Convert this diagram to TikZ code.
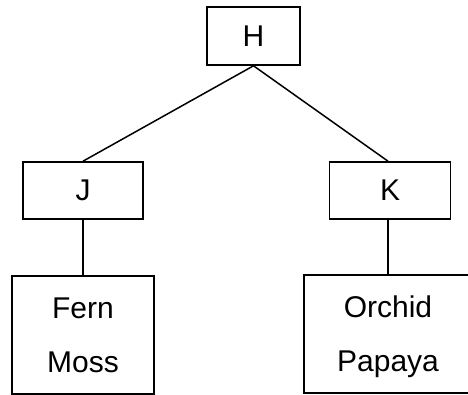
\documentclass[tikz,border=0pt]{standalone}
\usepackage{fontspec}
\setmainfont{Liberation Sans}
\begin{document}
\begin{tikzpicture}[x=1pt,y=-1pt,
  box/.style={draw, line width=1.6pt, inner sep=0pt, align=center,
    font=\fontsize{30}{54}\selectfont},
  link/.style={line width=1.5pt}]
\useasboundingbox (0,0) rectangle (468,395);
\clip (0,0) rectangle (468,395);
\node[box, minimum width=93pt, minimum height=58pt] (H) at (253.5,36) {H};
\node[box, minimum width=120pt, minimum height=57pt] (J) at (83,190.5) {J};
\node[box, minimum width=121pt, minimum height=57pt] (K) at (390,190.5) {K};
\node[box, minimum width=142pt, minimum height=118pt] (F) at (83,335) {\strut Fern\\\strut Moss};
\node[box, minimum width=168pt, minimum height=118pt] (O) at (388,334) {\strut Orchid\\\strut Papaya};
\draw[link] (H.south) -- (J.north);
\draw[link] (H.south) -- ([xshift=-2pt]K.north);
\draw[link] (J.south) -- (F.north);
\draw[link] ([xshift=-2pt]K.south) -- (O.north);
\end{tikzpicture}
\end{document}
